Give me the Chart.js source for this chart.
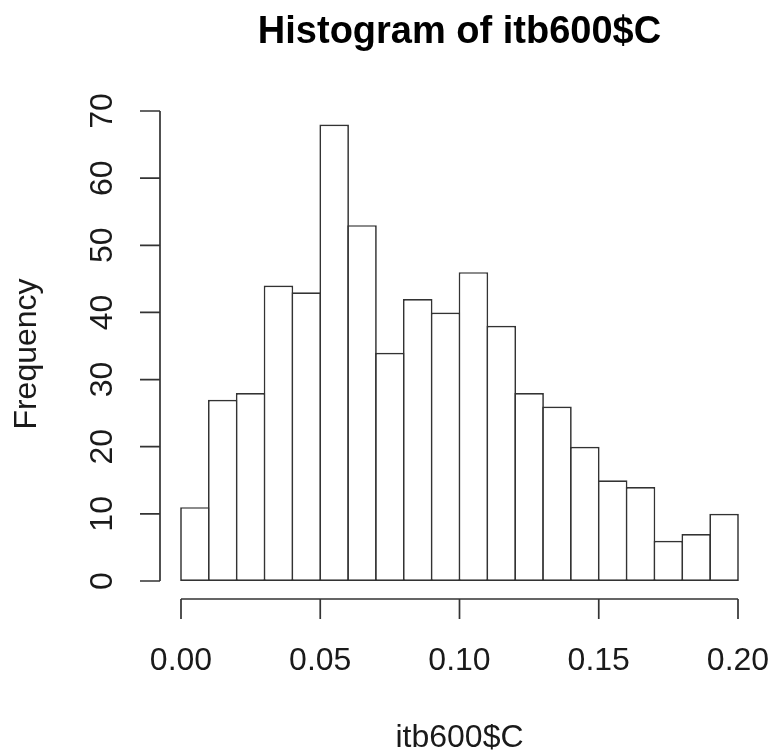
<!DOCTYPE html>
<html>
<head>
<meta charset="utf-8">
<script src="https://cdn.jsdelivr.net/npm/chart.js@4/dist/chart.umd.min.js"></script>
<style>
  html, body { margin: 0; padding: 0; background: #fff; }
  #wrap { width: 773px; height: 756px; }
</style>
</head>
<body>
<div id="wrap"><canvas id="hist" width="773" height="756"></canvas></div>
<script>
// histogram bins (left edges) and counts
var binEdges = [0.00, 0.01, 0.02, 0.03, 0.04, 0.05, 0.06, 0.07, 0.08, 0.09,
                0.10, 0.11, 0.12, 0.13, 0.14, 0.15, 0.16, 0.17, 0.18, 0.19];
var binWidth = 0.01;
var counts = [11, 27, 28, 44, 43, 68, 53, 34, 42, 40,
              46, 38, 28, 26, 20, 15, 14, 6, 7, 10];

// axis ticks
var xTicks = [0, 0.05, 0.10, 0.15, 0.20];
var xTickLabels = ['0.00', '0.05', '0.10', '0.15', '0.20'];
var yTicks = [0, 10, 20, 30, 40, 50, 60, 70];

var titleText = 'Histogram of itb600$C';
var xTitle = 'itb600$C';
var yTitle = 'Frequency';

var points = [];
for (var i = 0; i < counts.length; i++) {
	points.push({ x: binEdges[i] + binWidth / 2, y: counts[i] });
}

var FONT = '"Liberation Sans", Arial, Helvetica, sans-serif';
var LINE = '#333333';

// R style detached axes, drawn from the chart's own scales
var rAxes = {
	id: 'rAxes',
	afterDraw: function(chart){
		var ctx = chart.ctx;
		var xs = chart.scales.x, ys = chart.scales.y;
		var area = chart.chartArea;
		ctx.save();
		ctx.strokeStyle = LINE;
		ctx.lineWidth = 1.7;
		ctx.fillStyle = '#1a1a1a';

		// y axis
		var ax = area.left - 21;
		ctx.beginPath();
		ctx.moveTo(ax, ys.getPixelForValue(yTicks[0]));
		ctx.lineTo(ax, ys.getPixelForValue(yTicks[yTicks.length - 1]));
		for (var i = 0; i < yTicks.length; i++) {
			var py = ys.getPixelForValue(yTicks[i]);
			ctx.moveTo(ax, py);
			ctx.lineTo(ax - 20, py);
		}
		ctx.stroke();

		ctx.font = '32px ' + FONT;
		ctx.textAlign = 'center';
		ctx.textBaseline = 'alphabetic';
		for (var i = 0; i < yTicks.length; i++) {
			var py = ys.getPixelForValue(yTicks[i]);
			ctx.save();
			ctx.translate(112, py);
			ctx.rotate(-Math.PI / 2);
			ctx.fillText(String(yTicks[i]), 0, 0);
			ctx.restore();
		}

		// x axis
		var ay = area.bottom + 18;
		ctx.beginPath();
		ctx.moveTo(xs.getPixelForValue(xTicks[0]), ay);
		ctx.lineTo(xs.getPixelForValue(xTicks[xTicks.length - 1]), ay);
		for (var j = 0; j < xTicks.length; j++) {
			var px = xs.getPixelForValue(xTicks[j]);
			ctx.moveTo(px, ay);
			ctx.lineTo(px, ay + 20);
		}
		ctx.stroke();

		for (var j = 0; j < xTicks.length; j++) {
			ctx.fillText(xTickLabels[j], xs.getPixelForValue(xTicks[j]), 670);
		}

		// axis titles
		var cx = (area.left + area.right) / 2;
		ctx.fillText(xTitle, cx, 747);
		ctx.save();
		ctx.translate(36, (area.top + area.bottom) / 2 + 8);
		ctx.rotate(-Math.PI / 2);
		ctx.fillText(yTitle, 0, 0);
		ctx.restore();

		// main title
		ctx.fillStyle = '#000';
		ctx.font = 'bold 38px ' + FONT;
		ctx.fillText(titleText, cx, 43);

		ctx.restore();
	}
};

var ctx = document.getElementById('hist');
var histChart = new Chart(ctx, {
	type: 'bar',
	data: {
		datasets: [{
			data: points,
			backgroundColor: '#ffffff',
			borderColor: LINE,
			borderWidth: 1.7,
			borderSkipped: false,
			barPercentage: 1.061,
			categoryPercentage: 1,
			clip: false
		}]
	},
	options: {
		responsive: false,
		animation: false,
		layout: { padding: { left: 181, right: 35, top: 111, bottom: 175 } },
		plugins: { legend: { display: false }, tooltip: { enabled: false }, title: { display: false } },
		scales: {
			x: { type: 'linear', min: 0, max: 0.2, offset: false, display: false },
			y: { min: 0, max: 70, display: false }
		}
	},
	plugins: [rAxes]
});
</script>
</body>
</html>
